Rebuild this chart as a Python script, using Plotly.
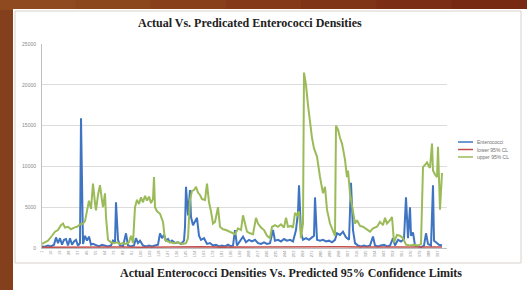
import plotly.graph_objects as go

# ---------------- data ----------------
upper_x = [1,4,7,11,14,17,20,22,24,27,30,33,36,39,42,44,46,48,50,52,54,55,57,59,61,62,64,65,67,70,73,76,79,82,85,88,90,92,94,96,98,100,102,104,106,108,110,112,113,114,116,119,122,124,127,130,133,136,139,142,145,147,149,151,153,155,157,159,161,164,166,168,170,172,174,177,179,182,185,188,191,194,197,200,202,204,206,209,212,215,217,220,223,226,229,231,234,237,240,243,245,247,250,252,254,256,258,260,262,263,265,267,269,271,273,276,279,282,284,286,289,292,294,295,297,299,301,303,304,306,307,309,312,314,316,319,322,325,329,332,336,339,342,344,346,349,351,353,356,359,362,365,369,373,377,380,382,384,386,388,389,391,392,394,396,397,399,401]
upper_y = [500,700,900,1500,2000,2200,2800,3000,2500,2600,2300,2500,2600,2900,3000,3300,4500,5800,4800,7900,5500,4600,6500,7700,5800,5000,6700,3800,1000,700,600,700,500,600,500,700,1500,600,5000,5900,5400,6200,5600,6400,5800,6300,5500,6000,8700,5000,4500,4200,3200,1000,800,700,600,700,600,500,600,1200,5900,7000,7100,7500,6800,6500,6000,5900,7900,5600,4500,3000,3200,5000,2600,2300,2200,2000,1900,1700,2400,2200,4000,3000,2000,1800,1700,3700,3000,2500,2200,1500,1200,2600,2800,2600,2900,2500,3700,2600,2700,2500,4300,4000,4500,1200,3000,21500,20000,17500,15300,13500,12200,11200,8700,6700,7500,4700,3000,2000,1500,15000,14500,13500,12800,11500,10800,8700,9500,6700,4700,3000,3400,2700,2600,2300,2000,2400,2600,3200,2800,3700,3000,3400,3800,700,1600,1500,1200,400,300,400,300,500,9900,10200,10500,10000,9800,12800,9500,9000,8700,12400,4700,9200]

entero_x = [1,4,7,10,13,15,17,19,21,23,25,27,29,31,33,35,37,39,40,42,44,46,48,50,52,55,58,61,64,67,70,72,74,75,77,79,82,85,87,90,93,95,97,99,102,105,108,111,114,117,119,121,123,125,127,129,131,134,137,140,143,144,145,147,149,150,152,154,156,158,160,163,166,169,172,175,178,181,184,187,190,192,194,196,199,202,205,208,211,214,217,220,223,226,229,232,234,237,240,243,246,249,252,255,257,258,260,262,265,268,271,273,274,276,279,282,285,288,291,294,296,299,302,305,308,310,312,314,317,320,323,326,329,332,334,337,340,343,346,349,352,354,357,360,363,365,367,369,370,372,374,377,380,383,385,387,390,392,393,395,398,401]
entero_y = [200,150,300,200,400,1300,600,1200,400,1000,1100,300,1200,400,800,1000,300,600,15900,500,1500,900,1400,400,500,300,200,400,300,200,300,900,700,5600,1000,300,200,1800,300,200,300,1200,600,900,300,200,300,200,300,400,1800,1200,1600,900,1100,700,900,600,700,500,900,2600,7500,4000,7100,3800,2800,3200,3700,1500,1000,1200,500,600,300,400,200,300,200,400,200,300,2200,300,800,1400,700,1000,800,1000,600,500,700,500,600,2200,900,1000,800,1100,900,1000,800,2200,4400,7700,1900,1000,1200,1000,1300,1500,6200,1000,900,1000,800,900,700,1000,1800,1600,2000,1300,1000,8000,2200,600,300,200,300,200,300,1400,300,200,300,400,200,300,1200,300,1000,800,1100,6200,1200,5000,1500,1900,300,200,100,300,1800,500,300,7700,900,700,400,300]

lower_x = [1,20,40,60,80,100,120,140,160,180,200,220,240,260,280,300,320,340,360,380,401]
lower_y = [100,120,150,110,130,100,140,120,150,110,130,120,160,140,180,150,120,110,100,130,120]

series_names = ["Enterococci", "lower 95% CL", "upper 95% CL"]
series_colors = ["#3F74C2", "#C0504D", "#9BBB59"]

y_ticks = [0, 5000, 10000, 15000, 20000, 25000]
x_ticks = list(range(1, 402, 9))

title_text = "Actual Vs. Predicated Enterococci Densities"
caption_text = "Actual Enterococci Densities Vs. Predicted 95% Confidence Limits"

# ---------------- figure ----------------
W, H = 527, 290
L, R, T, B = 42, 80, 44, 42
pw, ph = W - L - R, H - T - B

def px(x):
    return (x - L) / pw

def py(y):
    return (H - B - y) / ph

fig = go.Figure()
for xs, ys, name, col, wd in [(entero_x, entero_y, series_names[0], series_colors[0], 2),
                              (lower_x, lower_y, series_names[1], series_colors[1], 1.6),
                              (upper_x, upper_y, series_names[2], series_colors[2], 2)]:
    fig.add_trace(go.Scatter(x=xs, y=ys, mode="lines", name=name,
                             line=dict(color=col, width=wd), showlegend=False))

shapes = []
# brown gradient border strips
browns = ["#8f4b1f", "#8c461d", "#88401b", "#843a19", "#7f3417", "#7b2e15", "#772913"]
n = len(browns)
for i, c in enumerate(browns):
    shapes.append(dict(type="rect", xref="paper", yref="paper", layer="below",
                       x0=px(i * W / n), x1=px((i + 1) * W / n + 1), y0=py(0), y1=py(10),
                       fillcolor=c, line=dict(width=0)))
# white panel
shapes.append(dict(type="rect", xref="paper", yref="paper", layer="below",
                   x0=px(13), x1=px(W + 2), y0=py(H + 2), y1=py(9),
                   fillcolor="white", line=dict(width=0)))
# chart frame
shapes.append(dict(type="rect", xref="paper", yref="paper", layer="below",
                   x0=px(15), x1=px(521), y0=py(263), y1=py(11),
                   fillcolor="rgba(0,0,0,0)", line=dict(color="#d8d0cc", width=1)))

# manual legend
annotations = []
leg_y = [142, 149.5, 157]
for i in range(3):
    shapes.append(dict(type="line", xref="paper", yref="paper",
                       x0=px(458), x1=px(473), y0=py(leg_y[i]), y1=py(leg_y[i]),
                       line=dict(color=series_colors[i], width=1.5)))
    annotations.append(dict(xref="paper", yref="paper", x=px(475), y=py(leg_y[i]),
                            text=series_names[i], showarrow=False, xanchor="left",
                            yanchor="middle", font=dict(size=5, color="#707070",
                            family="Liberation Sans")))

annotations.append(dict(xref="paper", yref="paper", x=px(250), y=py(23),
                        text="<b>" + title_text + "</b>", showarrow=False,
                        xanchor="center", yanchor="middle",
                        font=dict(size=12, color="#222222", family="Liberation Serif")))
annotations.append(dict(xref="paper", yref="paper", x=px(291), y=py(273),
                        text="<b>" + caption_text + "</b>", showarrow=False,
                        xanchor="center", yanchor="middle",
                        font=dict(size=12, color="#222222", family="Liberation Serif")))

fig.update_layout(
    width=W, height=H,
    margin=dict(l=L, r=R, t=T, b=B),
    paper_bgcolor="#84401c",
    plot_bgcolor="white",
    shapes=shapes,
    annotations=annotations,
    showlegend=False,
    xaxis=dict(range=[1, 406], tickmode="array", tickvals=x_ticks,
               ticktext=[str(v) for v in x_ticks], tickangle=-90,
               tickfont=dict(size=4, color="#8a8a8a", family="Liberation Sans"),
               showgrid=False, zeroline=False, showline=True, linecolor="#bfbfbf",
               linewidth=1, ticks="", ticklen=2),
    yaxis=dict(range=[0, 25000], tickmode="array", tickvals=y_ticks,
               ticktext=[str(v) for v in y_ticks],
               tickfont=dict(size=5, color="#8a8a8a", family="Liberation Sans"),
               showgrid=True, gridcolor="#dcdcdc", gridwidth=1, zeroline=False,
               showline=True, linecolor="#bfbfbf", linewidth=1, ticks="",
               ticklabelstandoff=4),
)

fig.write_html("out.html",
               config={"displayModeBar": False},
               post_script="document.body.style.margin='0px';document.body.style.overflow='hidden';")
